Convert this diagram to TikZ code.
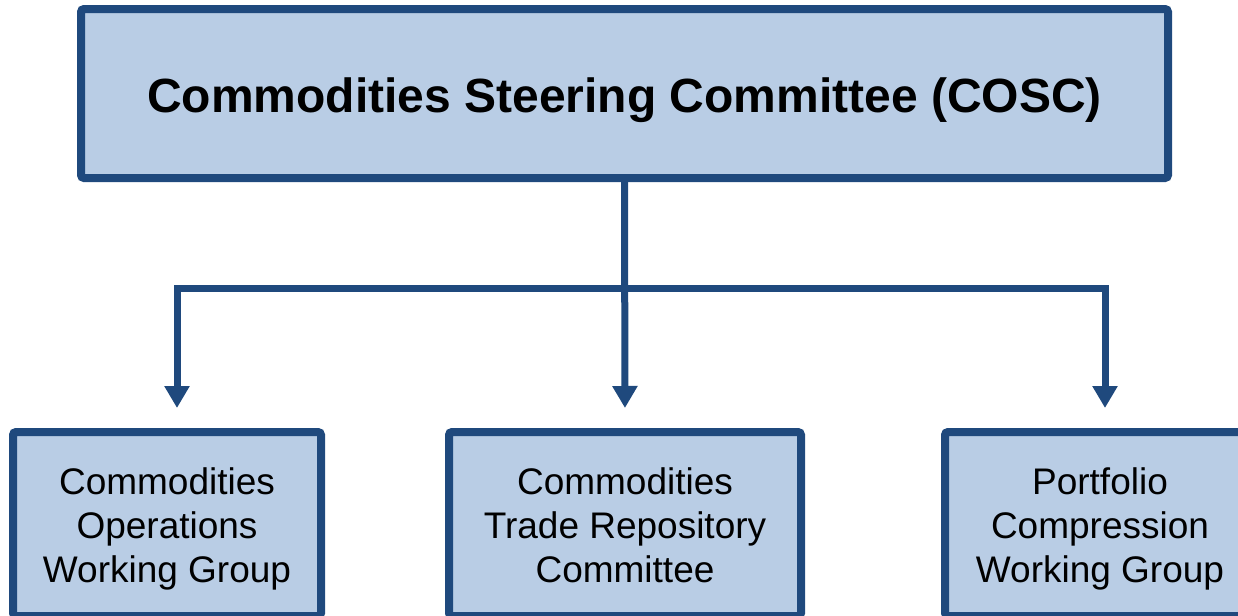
\documentclass[tikz,border=0pt]{standalone}
\usepackage{fontspec}
\setmainfont{Liberation Sans}
\usetikzlibrary{arrows.meta}
\definecolor{boxfill}{HTML}{B9CDE5}
\definecolor{boxline}{HTML}{1F497D}

\begin{document}
\begin{tikzpicture}[x=0.5pt,y=-0.5pt,
  box/.style={draw=boxline,fill=boxfill,line width=4pt,rounded corners=1.5pt,inner sep=0pt,align=center},
  group/.style={box,minimum height=92pt,text height=58pt,text depth=0pt,font=\fontsize{18.5}{22}\selectfont},
  conn/.style={draw=boxline,line width=3.5pt,-{Triangle[width=12pt,length=11pt]},shorten >=10pt}]
  \useasboundingbox (0,0) rectangle (1238,616);
  \clip (0,0) rectangle (1238,616);

  \node[box,minimum width=543.5pt,minimum height=84.5pt,text height=18.5pt,text depth=0pt,font=\bfseries\fontsize{24}{28}\selectfont] (cosc) at (624.5,93.5) {Commodities Steering Committee (COSC)};

  \node[group,minimum width=154pt] (ops) at (167,524) {Commodities\\Operations\\Working Group};
  \node[group,minimum width=176pt] (repo) at (625,524) {Commodities\\Trade Repository\\Committee};
  \node[group,minimum width=155pt] (comp) at (1100,524) {Portfolio\\Compression\\Working Group};

  \coordinate (split) at (625,288);

  \draw[conn] (cosc.south) -- (repo.north);
  \draw[conn] (split) -| ([xshift=5pt]ops.north);
  \draw[conn] (split) -| ([xshift=2.5pt]comp.north);

\end{tikzpicture}
\end{document}
